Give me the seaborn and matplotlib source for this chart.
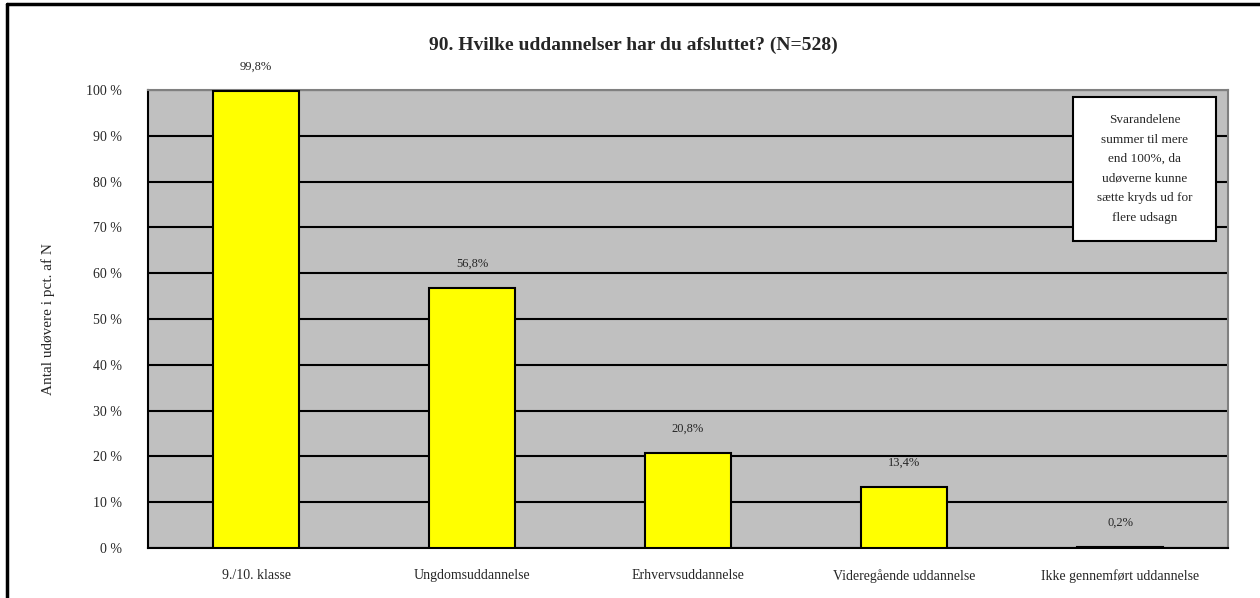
import seaborn as sns
import matplotlib.pyplot as plt
from matplotlib.patches import Rectangle
from matplotlib.lines import Line2D

# Data
categories = ['9./10. klasse', 'Ungdomsuddannelse', 'Erhvervsuddannelse',
              'Videregående uddannelse', 'Ikke gennemført uddannelse']
values = [99.8, 56.8, 20.8, 13.4, 0.2]
value_labels = ['99,8%', '56,8%', '20,8%', '13,4%', '0,2%']
yticks = list(range(0, 101, 10))
ytick_labels = [f'{t} %' for t in yticks]

title = '90. Hvilke uddannelser har du afsluttet? (N=528)'
ylabel = 'Antal udøvere i pct. af N'
note = 'Svarandelene\nsummer til mere\nend 100%, da\nudøverne kunne\nsætte kryds ud for\nflere udsagn'

sns.set_style('white')
plt.rcParams['font.family'] = ['Liberation Serif', 'DejaVu Serif']

fig = plt.figure(figsize=(12.6, 5.98), dpi=100)
ax = fig.add_axes([148 / 1260, 1 - 548 / 598, 1080 / 1260, 458 / 598])

# Bars
sns.barplot(x=categories, y=values, color='#FFFF00', edgecolor='black',
            linewidth=1.5, width=0.4, saturation=1, ax=ax, zorder=3)

ax.set_facecolor('#C0C0C0')
ax.set_ylim(0, 100)
ax.set_xlim(-0.5, 4.5)
ax.set_yticks(yticks)
ax.set_yticklabels(ytick_labels, fontsize=10)
ax.yaxis.grid(True, color='black', linewidth=1.5, zorder=1)
ax.set_axisbelow(True)

# x ticks between categories
ax.set_xticks(range(len(categories)))
ax.set_xticklabels(categories, fontsize=10)
ax.set_xticks([i - 0.5 for i in range(len(categories) + 1)], minor=True)
ax.tick_params(axis='x', which='major', length=0, pad=15)
ax.tick_params(axis='x', which='minor', length=5, width=1.5, direction='out', color='black')
ax.tick_params(axis='y', length=5, width=1.5, direction='out', color='black', pad=14)

for side in ['left', 'bottom']:
    ax.spines[side].set_color('black')
    ax.spines[side].set_linewidth(1.5)
for side in ['top', 'right']:
    ax.spines[side].set_color('#808080')
    ax.spines[side].set_linewidth(1.5)

# Value labels
ax.bar_label(ax.containers[0], labels=value_labels, padding=13, fontsize=9)

ax.set_ylabel(ylabel, fontsize=11, labelpad=22)
ax.set_xlabel('')

fig.text(633 / 1260, 1 - 45 / 598, title, ha='center', va='center',
         fontsize=14, fontweight='bold')

# Note box
ax.add_patch(Rectangle(((1073 - 148) / 1080, (548 - 241) / 458), 143 / 1080, 144 / 458,
                       transform=ax.transAxes, facecolor='white', edgecolor='black',
                       linewidth=1.5, zorder=5))
ax.text((1144.5 - 148) / 1080, (548 - 169) / 458, note, transform=ax.transAxes,
        ha='center', va='center', fontsize=9.5, linespacing=1.85, zorder=6)

# Outer frame (top and left edges visible)
fig.add_artist(Line2D([7 / 1260, 7 / 1260], [0, 1 - 4 / 598], transform=fig.transFigure,
                      color='black', linewidth=2.5))
fig.add_artist(Line2D([7 / 1260, 1], [1 - 4 / 598, 1 - 4 / 598], transform=fig.transFigure,
                      color='black', linewidth=2.5))

plt.savefig('out.png', dpi=100)
plt.close()
